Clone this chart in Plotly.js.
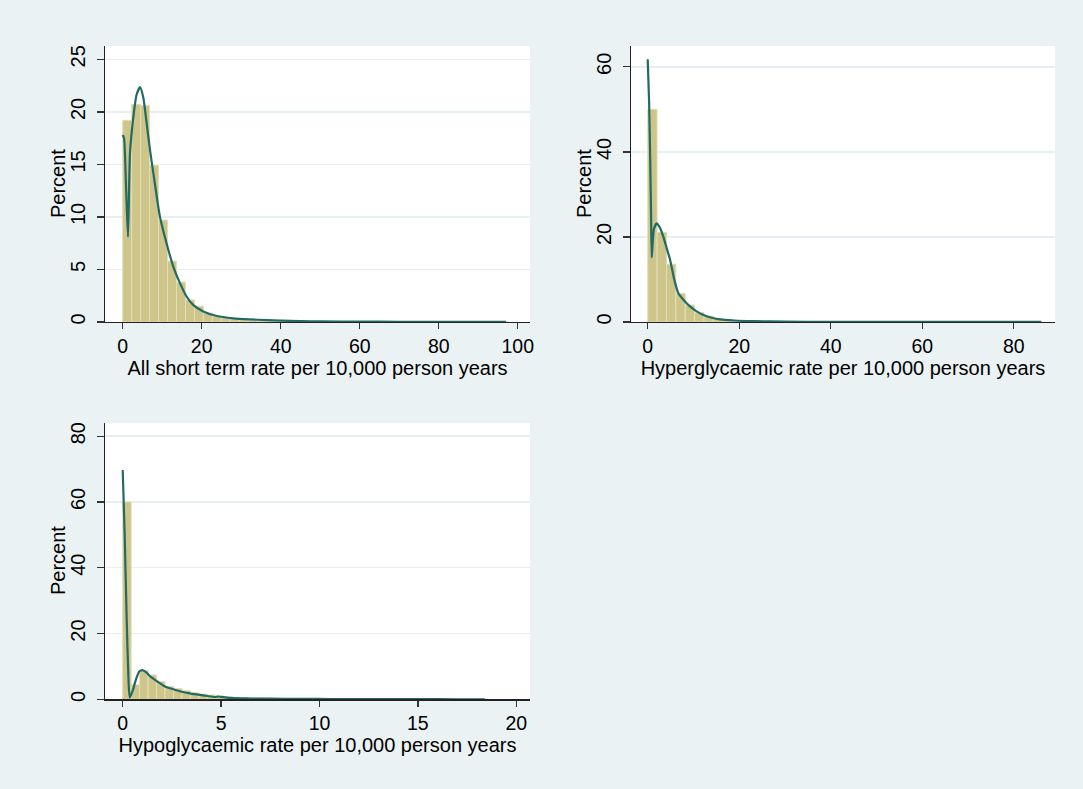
<!DOCTYPE html>
<html><head><meta charset="utf-8">
<script src="https://cdn.plot.ly/plotly-3.0.1.min.js"></script>
<style>html,body{margin:0;padding:0;background:#eaf2f3}</style>
</head><body><div id="chart" style="width:1083px;height:789px"></div>
<script>
const W = 1083, H = 789;

// Panel 1: All short term rate
const allBinWidth = 2.27;
const allPercent = [19.2, 20.7, 20.6, 14.9, 9.7, 5.8, 3.8, 2.1, 1.5, 0.85, 0.55, 0.4, 0.3, 0.2, 0.15, 0.12, 0.1, 0.08, 0.06, 0.05, 0.05, 0.05, 0.04, 0.03, 0.02, 0.02, 0.03, 0.02, 0, 0, 0, 0, 0, 0, 0.02, 0, 0, 0, 0, 0.02, 0.02, 0.02, 0.02];
const allKdeX = [0, 0.34, 0.84, 1.34, 1.85, 2.7, 3.5, 4.38, 5.2, 6.07, 6.9, 7.75, 9.44, 11.1, 12.8, 14.5, 16.2, 17.9, 20.4, 23.8, 28, 32, 36.5, 40, 45, 50, 60, 70, 80, 90, 97];
const allKdeY = [17.8, 17.5, 12.9, 8.1, 16.1, 19.5, 21.6, 22.35, 21.4, 18.9, 16.4, 14.2, 10.0, 7.5, 5.27, 3.7, 2.4, 1.6, 1.0, 0.57, 0.35, 0.25, 0.18, 0.13, 0.08, 0.05, 0.04, 0.02, 0.02, 0.02, 0.01];

// Panel 2: Hyperglycaemic rate
const hyperBinWidth = 2.05;
const hyperPercent = [50.0, 21.1, 13.6, 6.7, 4.0, 2.2, 1.4, 0.86, 0.5, 0.3, 0.2, 0.15, 0.1, 0.08, 0.06, 0.05, 0.04, 0.03, 0.03, 0.02, 0.02, 0.02, 0.02, 0.02, 0, 0, 0, 0, 0.02, 0.02, 0, 0, 0, 0, 0, 0, 0, 0, 0, 0, 0, 0.02];
const hyperKdeX = [0, 0.3, 0.55, 0.75, 0.88, 1.05, 1.35, 1.97, 2.6, 3.4, 4.2, 4.9, 5.8, 6.7, 8.0, 9.3, 10.7, 12.2, 14.0, 15.8, 19, 23, 30, 40, 50, 60, 70, 80, 86];
const hyperKdeY = [61.8, 52, 38, 24, 15.2, 18, 21.8, 23.2, 22.3, 20.1, 17.2, 14.6, 10.0, 6.75, 5.0, 3.6, 2.5, 1.65, 1.0, 0.6, 0.35, 0.2, 0.08, 0.04, 0.02, 0.02, 0.01, 0.01, 0.01];

// Panel 3: Hypoglycaemic rate
const hypoBinWidth = 0.43;
const hypoPercent = [60.0, 4.4, 8.8, 7.4, 5.4, 3.9, 3.3, 2.6, 2.0, 1.6, 1.3, 1.0, 0.8, 0.6, 0.5, 0.4, 0.35, 0.3, 0.25, 0.2, 0.15, 0.12, 0.1, 0.08, 0.06, 0.05, 0.05, 0.04, 0.03, 0.03, 0.02, 0.02, 0.02, 0.02, 0.02, 0.02, 0, 0, 0, 0, 0, 0, 0.02];
const hypoKdeX = [0, 0.1, 0.2, 0.3, 0.36, 0.5, 0.7, 0.85, 1.0, 1.2, 1.39, 1.64, 2.15, 2.6, 3.0, 3.4, 3.85, 4.3, 4.7, 4.85, 5.0, 5.4, 6.0, 6.5, 7.5, 9, 10, 11, 13, 15, 17, 18.4];
const hypoKdeY = [69.7, 50, 25, 5, 0.5, 2.5, 6.5, 8.5, 8.9, 8.2, 7.0, 5.9, 3.9, 3.0, 2.3, 1.8, 1.4, 1.0, 0.7, 0.85, 0.75, 0.45, 0.3, 0.25, 0.18, 0.12, 0.1, 0.06, 0.04, 0.04, 0.02, 0.02];

const xTitles = ["All short term rate per 10,000 person years", "Hyperglycaemic rate per 10,000 person years", "Hypoglycaemic rate per 10,000 person years"];
const yTitle = "Percent";

const barFill = "rgb(205,197,138)";
const barEdge = "rgb(226,222,184)";
const kdeColor = "rgb(34,106,98)";
const bg = "#eaf2f3";
const fontFam = "Liberation Sans, Arial, sans-serif";

function centers(w, arr) { return arr.map((_, i) => w * (i + 0.5)); }

const sets = [
  [allBinWidth, allPercent, allKdeX, allKdeY, "x", "y"],
  [hyperBinWidth, hyperPercent, hyperKdeX, hyperKdeY, "x2", "y2"],
  [hypoBinWidth, hypoPercent, hypoKdeX, hypoKdeY, "x3", "y3"]
];
const data = [];
sets.forEach(s => {
  data.push({type: "bar", x: centers(s[0], s[1]), y: s[1], width: s[0], xaxis: s[4], yaxis: s[5],
    marker: {color: barFill, line: {color: barEdge, width: 1}}, hoverinfo: "x+y", showlegend: false});
  data.push({type: "scatter", mode: "lines", x: s[2], y: s[3], xaxis: s[4], yaxis: s[5],
    line: {color: kdeColor, width: 2.2, shape: "spline", smoothing: 0.6}, showlegend: false});
});

function xa(dom, range, vals, title) {
  return {domain: dom, range: range, tickvals: vals, ticktext: vals.map(String), ticks: "outside", ticklen: 6, tickwidth: 1.3,
    tickcolor: "#333", showline: true, linecolor: "#222", linewidth: 1.3, showgrid: false, zeroline: false,
    tickfont: {family: fontFam, size: 19.5, color: "#000"}, title: {text: title, font: {family: fontFam, size: 20, color: "#000"}, standoff: 4}};
}
function ya(dom, range, vals) {
  return {domain: dom, range: range, tickvals: vals, ticktext: vals.map(String), ticks: "outside", ticklen: 7, tickwidth: 1.3,
    tickcolor: "#333", showline: true, linecolor: "#222", linewidth: 1.3, showgrid: true, gridcolor: "#e6eff1", gridwidth: 1.5, zeroline: false,
    tickangle: -90, ticklabelstandoff: 4, tickfont: {family: fontFam, size: 20, color: "#000"}};
}
const fy = v => (H - v) / H;
const fx = v => v / W;

const yTitleAnn = (xc, yc) => ({text: yTitle, xref: "paper", yref: "paper", x: fx(xc), y: fy(yc), xanchor: "center", yanchor: "middle",
  textangle: -90, showarrow: false, font: {family: fontFam, size: 20, color: "#000"}});

const layout = {
  width: W, height: H, margin: {l: 0, r: 0, t: 0, b: 0},
  paper_bgcolor: bg, plot_bgcolor: "#fff", bargap: 0,
  xaxis: xa([fx(105), fx(530)], [-4.48, 103.1], [0, 20, 40, 60, 80, 100], xTitles[0]),
  yaxis: ya([fy(322), fy(46)], [0, 26.27], [0, 5, 10, 15, 20, 25]),
  xaxis2: xa([fx(631), fx(1055)], [-3.65, 89.0], [0, 20, 40, 60, 80], xTitles[1]),
  yaxis2: ya([fy(322), fy(46)], [0, 64.9], [0, 20, 40, 60]),
  xaxis3: xa([fx(105), fx(530)], [-0.9, 20.7], [0, 5, 10, 15, 20], xTitles[2]),
  yaxis3: ya([fy(699.3), fy(423)], [0, 84], [0, 20, 40, 60, 80]),
  annotations: [yTitleAnn(58, 184), yTitleAnn(584, 184), yTitleAnn(58, 561)]
};
layout.yaxis.anchor = "x"; layout.yaxis2.anchor = "x2"; layout.yaxis3.anchor = "x3";
layout.xaxis.anchor = "y"; layout.xaxis2.anchor = "y2"; layout.xaxis3.anchor = "y3";

Plotly.newPlot("chart", data, layout, {displayModeBar: false, staticPlot: true});
</script></body></html>
